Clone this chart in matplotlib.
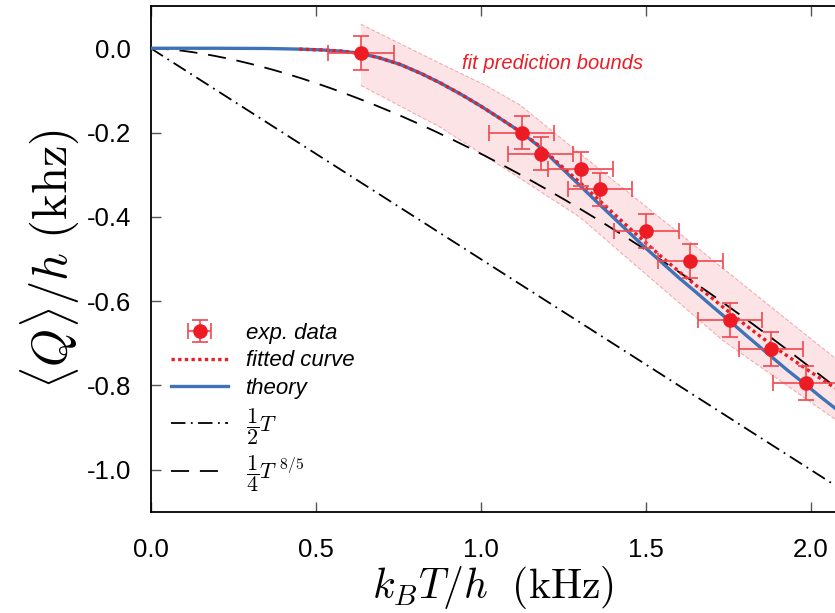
import numpy as np
import matplotlib
matplotlib.use("Agg")
import matplotlib.pyplot as plt

plt.rcParams['mathtext.fontset'] = 'cm'
plt.rcParams['axes.unicode_minus'] = False
plt.rcParams['font.family'] = ['Liberation Sans', 'DejaVu Sans']

# measured points (kHz)
T_exp = [0.637, 1.124, 1.182, 1.303, 1.362, 1.502, 1.636, 1.756, 1.880, 1.985]
Q_exp = [-0.012, -0.200, -0.250, -0.287, -0.335, -0.433, -0.505, -0.645, -0.713, -0.794]
T_err = [0.10, 0.098, 0.098, 0.098, 0.098, 0.098, 0.098, 0.098, 0.098, 0.098]
Q_err = [0.04, 0.04, 0.04, 0.04, 0.04, 0.04, 0.04, 0.04, 0.04, 0.04]

# theory curve
T_th = [0.0, 0.2, 0.35, 0.45, 0.52, 0.58, 0.634, 0.69, 0.755, 0.82, 0.877, 0.94,
        1.0, 1.06, 1.124, 1.182, 1.24, 1.30, 1.35, 1.40, 1.45, 1.493, 1.55, 1.60,
        1.65, 1.70, 1.756, 1.806, 1.88, 1.93, 1.985, 2.03, 2.074]
Q_th = [0.0, 0.0, -0.0005, -0.002, -0.004, -0.007, -0.012, -0.022, -0.038, -0.060,
        -0.082, -0.109, -0.137, -0.167, -0.200, -0.236, -0.280, -0.325, -0.363,
        -0.400, -0.437, -0.469, -0.509, -0.544, -0.577, -0.611, -0.648, -0.682,
        -0.731, -0.764, -0.798, -0.827, -0.854]

# fitted curve
T_fit = [0.45, 0.52, 0.58, 0.634, 0.69, 0.755, 0.82, 0.877, 0.94, 1.0, 1.06,
         1.124, 1.182, 1.24, 1.30, 1.35, 1.40, 1.45, 1.50, 1.544, 1.60, 1.65,
         1.70, 1.75, 1.80, 1.85, 1.90, 1.95, 2.00, 2.074]
Q_fit = [-0.002, -0.004, -0.007, -0.012, -0.022, -0.038, -0.060, -0.082, -0.109,
         -0.137, -0.167, -0.200, -0.234, -0.276, -0.318, -0.354, -0.390, -0.426,
         -0.461, -0.492, -0.529, -0.561, -0.592, -0.624, -0.655, -0.685, -0.714,
         -0.741, -0.768, -0.806]

# fit prediction bounds
T_up = [0.637, 0.877, 1.02, 1.12, 1.301, 2.008, 2.074]
Q_up = [0.057, -0.036, -0.09, -0.135, -0.25, -0.694, -0.735]
T_lo = [0.637, 0.877, 1.128, 1.301, 1.735, 2.074]
Q_lo = [-0.088, -0.187, -0.313, -0.401, -0.694, -0.88]

red = '#ed1c24'
blue = '#3f73b8'

fig = plt.figure(figsize=(8.35, 6.13), dpi=100)
ax = fig.add_axes([0.1805, 0.165, 0.8195, 0.825])

T = np.linspace(0, 2.1, 300)
T_band = np.linspace(T_up[0], 2.074, 200)
ax.fill_between(T_band, np.interp(T_band, T_lo, Q_lo), np.interp(T_band, T_up, Q_up),
                facecolor='#fce4e6', edgecolor='none', zorder=1)
ax.plot(T_up, Q_up, color='#f5a3aa', lw=0.7, ls=(0, (4, 2)), zorder=1)
ax.plot(T_lo, Q_lo, color='#f5a3aa', lw=0.7, ls=(0, (4, 2)), zorder=1)

l_half, = ax.plot(T, -0.5 * T, color='k', lw=1.3, dashes=(8, 3, 1, 3))
l_pow, = ax.plot(T, -0.25 * T ** 1.6, color='k', lw=1.3, dashes=(10, 6))
l_th, = ax.plot(T_th, Q_th, color=blue, lw=2.4, zorder=3)
l_fit, = ax.plot(T_fit, Q_fit, color=red, lw=2.4, ls=(0, (1, 1)), zorder=4)
eb = ax.errorbar(T_exp, Q_exp, xerr=T_err, yerr=Q_err, fmt='o', color=red,
                 ms=9.5, ecolor='#f0474f', elinewidth=1.2, capsize=6, capthick=1.2, zorder=5)

ax.text(1.219, -0.036, 'fit prediction bounds', color=red, fontsize=14.5,
        style='italic', ha='center', va='center')

leg = ax.legend([eb, l_fit, l_th, l_half, l_pow],
                ['exp. data', 'fitted curve', 'theory', r'$\dfrac{1}{2}T$', r'$\dfrac{1}{4}T^{\ 8/5}$'],
                loc='lower left', bbox_to_anchor=(0.0, -0.005), frameon=False,
                prop={'style': 'italic', 'size': 16}, handlelength=2.6,
                labelspacing=0.3, handletextpad=0.8)

ax.set_xlim(0, 2.074)
ax.set_ylim(-1.1, 0.1)
ax.set_xticks([0.0, 0.5, 1.0, 1.5, 2.0])
ax.set_yticks([0.0, -0.2, -0.4, -0.6, -0.8, -1.0])
ax.set_xticklabels(['0.0', '0.5', '1.0', '1.5', '2.0'])
ax.set_yticklabels(['0.0', '-0.2', '-0.4', '-0.6', '-0.8', '-1.0'])
ax.tick_params(direction='in', length=7, width=1, color='#555555', labelsize=18.5,
               top=True, right=False)
ax.tick_params(axis='x', pad=19)
ax.tick_params(axis='y', pad=14)
ax.spines['right'].set_visible(False)
for s in ['left', 'bottom', 'top']:
    ax.spines[s].set_linewidth(1.3)

ax.set_xlabel(r'$k_BT/h\ \ (\mathrm{kHz})$', fontsize=30, labelpad=1)
ax.set_ylabel(r'$\langle Q\rangle/h\ (\mathrm{khz})$', fontsize=35, labelpad=4)

fig.savefig('out.png', dpi=100)
